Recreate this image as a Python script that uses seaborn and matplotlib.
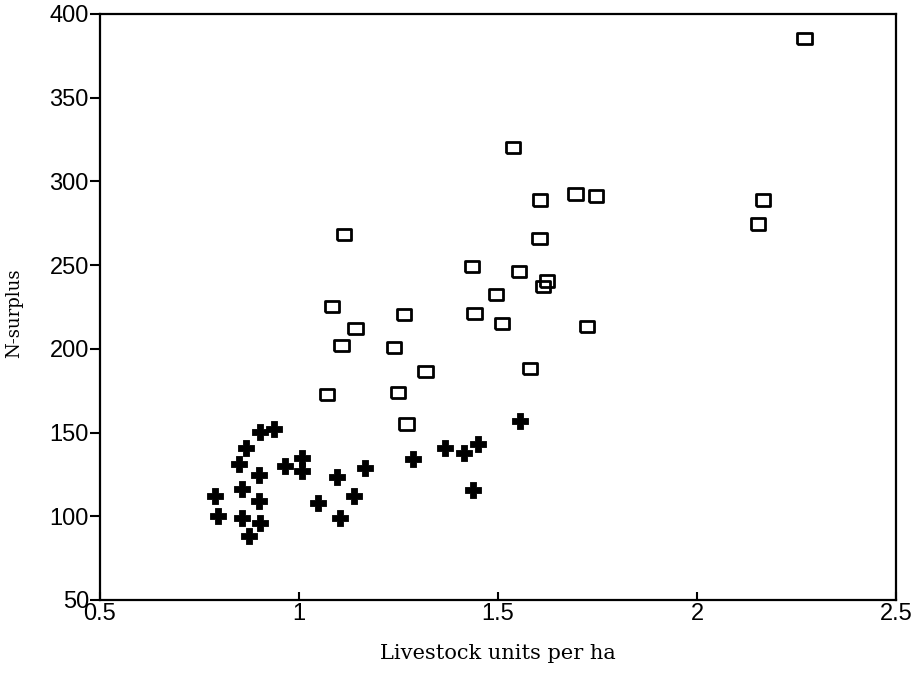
import numpy as np
import seaborn as sns
import matplotlib.pyplot as plt

# Seaborn
sns.set_theme(style="ticks")
plt.rcParams['font.family'] = ['Liberation Sans', 'DejaVu Sans']

# ---------------------------------
# Data
# ---------------------------------
# Filled crosses (lower group)
cross_x = [0.789, 0.796, 0.850, 0.868, 0.858, 0.857, 0.875, 0.903, 0.900,
           0.900, 0.903, 0.938, 0.965, 1.007, 1.007, 1.048, 1.095, 1.103,
           1.137, 1.166, 1.287, 1.368, 1.415, 1.449, 1.436, 1.556]
cross_y = [112.3, 100.1, 131.2, 140.9, 116.1, 99.1, 88.2, 150.1, 124.4,
           109.1, 95.8, 151.9, 130.2, 134.6, 127.0, 108.1, 123.2, 99.1,
           112.3, 129.0, 134.2, 140.9, 137.6, 142.9, 115.6, 157.1]

# Open boxes (upper group)
box_x = [2.270, 1.538, 1.606, 1.695, 1.746, 1.604, 1.552, 1.623, 1.613,
         1.495, 1.511, 1.723, 2.166, 2.153, 1.113, 1.435, 1.082, 1.263,
         1.441, 1.142, 1.107, 1.239, 1.318, 1.070, 1.248, 1.270, 1.581]
box_y = [385.5, 320.1, 288.9, 292.5, 291.3, 265.8, 246.1, 240.5, 237.1,
         232.7, 215.2, 213.6, 288.9, 274.6, 268.4, 249.0, 225.2, 220.6,
         221.2, 212.0, 201.9, 200.7, 186.3, 173.0, 174.0, 155.1, 188.4]

x_ticks = [0.5, 1, 1.5, 2, 2.5]
x_tick_labels = ['0.5', '1', '1.5', '2', '2.5']
y_ticks = [50, 100, 150, 200, 250, 300, 350, 400]

# Wide rectangle marker
rect = [(-1, -0.78), (1, -0.78), (1, 0.78), (-1, 0.78), (-1, -0.78)]

# ---------------------------------
# Plot
# ---------------------------------
fig = plt.figure(figsize=(9.18, 6.82), dpi=100)
ax = fig.add_axes([100 / 918, 82 / 682, 796 / 918, 586 / 682])

sns.scatterplot(x=cross_x, y=cross_y, marker='P', s=120, color='black',
                edgecolor='black', linewidth=0.6, ax=ax)
sns.scatterplot(x=box_x, y=box_y, marker=rect, s=105, facecolor='none',
                edgecolor='black', linewidth=2, ax=ax)

# Axes
ax.set_xlim(0.5, 2.5)
ax.set_ylim(50, 400)
ax.set_xticks(x_ticks)
ax.set_xticklabels(x_tick_labels)
ax.set_yticks(y_ticks)
ax.tick_params(axis='x', direction='in', length=6, width=1.5, pad=2,
               labelsize=17, colors='black')
ax.tick_params(axis='y', direction='out', length=7, width=1.5, pad=1,
               labelsize=17, colors='black')
for sp in ax.spines.values():
    sp.set_visible(True)
    sp.set_linewidth(1.6)
    sp.set_color('black')

ax.set_xlabel('Livestock units per ha', family='DejaVu Serif', fontsize=15,
              color='black')
ax.set_ylabel('N-surplus', family='DejaVu Serif', fontsize=13,
              color='black')
ax.xaxis.set_label_coords(0.5, -0.075)
ax.yaxis.set_label_coords(-0.096, 0.49)

fig.savefig('out.png', dpi=100)
